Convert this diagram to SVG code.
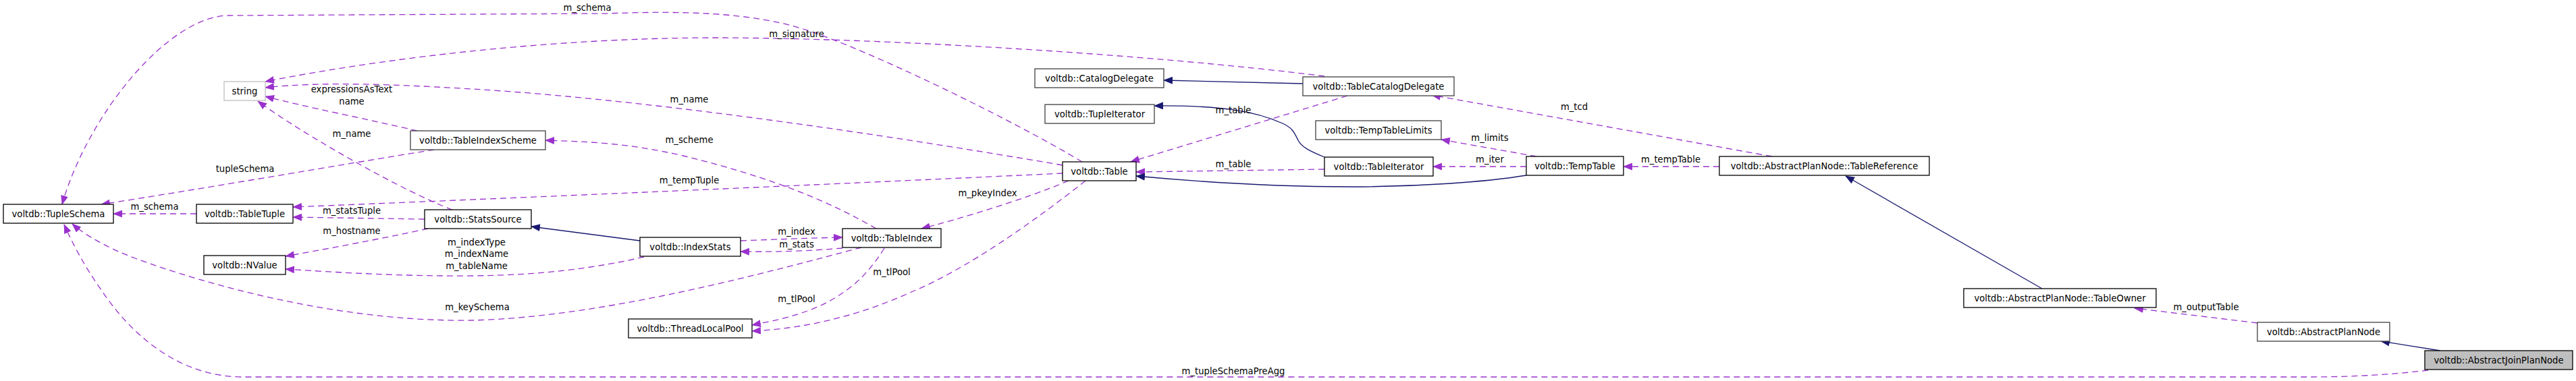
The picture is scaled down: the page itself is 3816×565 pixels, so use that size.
<svg xmlns="http://www.w3.org/2000/svg" width="3816" height="565" viewBox="0 0 3816 565">
<style>
.node rect{fill:#ffffff;stroke:#000000;stroke-width:1.3}
.node.g rect{stroke:#404040}
.node.ext rect{stroke:#bfbfbf}
.node.cur rect{fill:#bfbfbf}
text{font-family:"DejaVu Sans","Liberation Sans",sans-serif;font-size:13.2px;fill:#000000;text-anchor:middle}
.u{fill:none;stroke:#9a32cd;stroke-width:1.3;stroke-dasharray:9,6;marker-end:url(#ap)}
.i{fill:none;stroke:#191970;stroke-width:1.3;marker-end:url(#ab)}
</style>
<defs>
<marker id="ap" markerUnits="userSpaceOnUse" markerWidth="14" markerHeight="11" viewBox="0 0 14 11" refX="13" refY="5.5" orient="auto"><path d="M0,0 L14,5.5 L0,11 z" fill="#9a32cd"/></marker>
<marker id="ab" markerUnits="userSpaceOnUse" markerWidth="14" markerHeight="11" viewBox="0 0 14 11" refX="13" refY="5.5" orient="auto"><path d="M0,0 L14,5.5 L0,11 z" fill="#191970"/></marker>
</defs>
<rect width="3816" height="565" fill="#ffffff"/>
<g id="edges">
<path class="u" d="M1603,240 C1500,178 1290,75 1190,43 C1110,18 1010,16 900,20 L339,23 C250,23 130,170 92,303"/>
<path class="u" d="M1962,113 C1700,80 1300,56 1060,56 C850,56 600,80 393,121"/>
<path class="u" d="M1574,245 C1400,215 1000,150 700,132 C600,126 480,120 393,130"/>
<path class="u" d="M618,194 C550,178 450,158 393,143"/>
<path class="u" d="M670,311 C600,285 450,200 382,150"/>
<path class="u" d="M643,222 C500,245 300,280 150,303"/>
<path class="u" d="M291,317 L168,317"/>
<path class="u" d="M1574,257 C1300,270 900,288 434,307"/>
<path class="u" d="M629,325 C560,324 500,323 434,322"/>
<path class="u" d="M634,339 C560,355 490,368 423,380"/>
<path class="u" d="M954,381 C880,398 800,408 700,409 C600,410 500,404 423,399"/>
<path class="u" d="M1276,367 C1150,400 900,470 700,475 C500,478 300,420 200,383 C160,368 125,348 107,332"/>
<path class="u" d="M3597,549 C3540,556 3480,559 3420,559 L360,559 C260,559 190,490 150,430 C125,395 107,360 95,333"/>
<path class="u" d="M1097,357 C1150,355 1200,353 1248,352"/>
<path class="u" d="M1248,368 C1200,372 1150,374 1097,373"/>
<path class="i" d="M948,357 L787,336"/>
<path class="u" d="M1310,368 C1290,400 1270,420 1250,433 C1220,455 1180,470 1114,482"/>
<path class="u" d="M1608,268 C1530,330 1430,400 1350,433 C1280,465 1200,487 1114,491"/>
<path class="u" d="M1583,268 C1520,295 1420,325 1365,339"/>
<path class="u" d="M1298,339 C1230,300 1150,265 1012,231 C930,212 870,210 808,208"/>
<path class="i" d="M1930,124 L1724,119"/>
<path class="u" d="M1996,142 L1675,240"/>
<path class="i" d="M1962,233 C1940,224 1928,218 1923,208 C1917,196 1915,190 1900,183 C1860,165 1810,156 1710,157"/>
<path class="u" d="M1962,251 L1683,255"/>
<path class="i" d="M2261,260 C2200,270 2100,277 2000,277 C1900,277 1780,270 1683,261"/>
<path class="u" d="M2276,232 L2135,207"/>
<path class="u" d="M2261,247 L2123,247"/>
<path class="u" d="M2547,247 L2405,247"/>
<path class="u" d="M2625,232 L2121,141"/>
<path class="i" d="M3025,428 L2734,261"/>
<path class="u" d="M3344,479 L3162,457"/>
<path class="i" d="M3615,520 L3527,506"/>
<text x="870" y="16">m_schema</text>
<text x="1180" y="55">m_signature</text>
<text x="1021" y="152">m_name</text>
<text x="521" y="137">expressionsAsText</text>
<text x="521" y="155">name</text>
<text x="521" y="203">m_name</text>
<text x="363" y="255">tupleSchema</text>
<text x="229" y="311">m_schema</text>
<text x="521" y="317">m_statsTuple</text>
<text x="521" y="347">m_hostname</text>
<text x="706" y="364">m_indexType</text>
<text x="706" y="381">m_indexName</text>
<text x="706" y="399">m_tableName</text>
<text x="707" y="460">m_keySchema</text>
<text x="1021" y="272">m_tempTuple</text>
<text x="1021" y="212">m_scheme</text>
<text x="1180" y="348">m_index</text>
<text x="1180" y="367">m_stats</text>
<text x="1180" y="448">m_tlPool</text>
<text x="1321" y="408">m_tlPool</text>
<text x="1463" y="291">m_pkeyIndex</text>
<text x="1827" y="168">m_table</text>
<text x="1827" y="248">m_table</text>
<text x="1827" y="555">m_tupleSchemaPreAgg</text>
<text x="2332" y="163">m_tcd</text>
<text x="2207" y="209">m_limits</text>
<text x="2207" y="241">m_iter</text>
<text x="2475" y="241">m_tempTable</text>
<text x="3268" y="460">m_outputTable</text>
</g>
<g id="n_TupleSchema" class="node"><rect x="5" y="303" width="163" height="28"/><text x="86.5" y="322">voltdb::TupleSchema</text></g>
<g id="n_string" class="node ext"><rect x="332" y="121" width="61" height="28"/><text x="362.5" y="140">string</text></g>
<g id="n_TableTuple" class="node"><rect x="291" y="303" width="143" height="28"/><text x="362.5" y="322">voltdb::TableTuple</text></g>
<g id="n_NValue" class="node"><rect x="302" y="379" width="121" height="28"/><text x="362.5" y="398">voltdb::NValue</text></g>
<g id="n_TableIndexScheme" class="node g"><rect x="608" y="194" width="200" height="28"/><text x="708" y="213">voltdb::TableIndexScheme</text></g>
<g id="n_StatsSource" class="node"><rect x="629" y="311" width="158" height="28"/><text x="708" y="330">voltdb::StatsSource</text></g>
<g id="n_IndexStats" class="node"><rect x="948" y="352" width="149" height="28"/><text x="1022.5" y="371">voltdb::IndexStats</text></g>
<g id="n_TableIndex" class="node"><rect x="1248" y="339" width="146" height="28"/><text x="1321" y="358">voltdb::TableIndex</text></g>
<g id="n_ThreadLocalPool" class="node"><rect x="931" y="473" width="183" height="28"/><text x="1022.5" y="492">voltdb::ThreadLocalPool</text></g>
<g id="n_CatalogDelegate" class="node g"><rect x="1533" y="102" width="191" height="28"/><text x="1628.5" y="121">voltdb::CatalogDelegate</text></g>
<g id="n_TupleIterator" class="node g"><rect x="1548" y="155" width="162" height="28"/><text x="1629" y="174">voltdb::TupleIterator</text></g>
<g id="n_Table" class="node"><rect x="1574" y="240" width="109" height="28"/><text x="1628.5" y="259">voltdb::Table</text></g>
<g id="n_TableCatalogDelegate" class="node g"><rect x="1930" y="114" width="224" height="28"/><text x="2042" y="133">voltdb::TableCatalogDelegate</text></g>
<g id="n_TempTableLimits" class="node g"><rect x="1949" y="179" width="186" height="28"/><text x="2042" y="198">voltdb::TempTableLimits</text></g>
<g id="n_TableIterator" class="node"><rect x="1962" y="233" width="161" height="28"/><text x="2042.5" y="252">voltdb::TableIterator</text></g>
<g id="n_TempTable" class="node"><rect x="2261" y="232" width="144" height="28"/><text x="2333" y="251">voltdb::TempTable</text></g>
<g id="n_TableReference" class="node"><rect x="2547" y="232" width="311" height="28"/><text x="2702.5" y="251">voltdb::AbstractPlanNode::TableReference</text></g>
<g id="n_TableOwner" class="node"><rect x="2909" y="428" width="285" height="28"/><text x="3051.5" y="447">voltdb::AbstractPlanNode::TableOwner</text></g>
<g id="n_AbstractPlanNode" class="node g"><rect x="3344" y="478" width="196" height="28"/><text x="3442" y="497">voltdb::AbstractPlanNode</text></g>
<g id="n_AbstractJoinPlanNode" class="node cur"><rect x="3592" y="520" width="219" height="28"/><text x="3701.5" y="539">voltdb::AbstractJoinPlanNode</text></g>
</svg>
